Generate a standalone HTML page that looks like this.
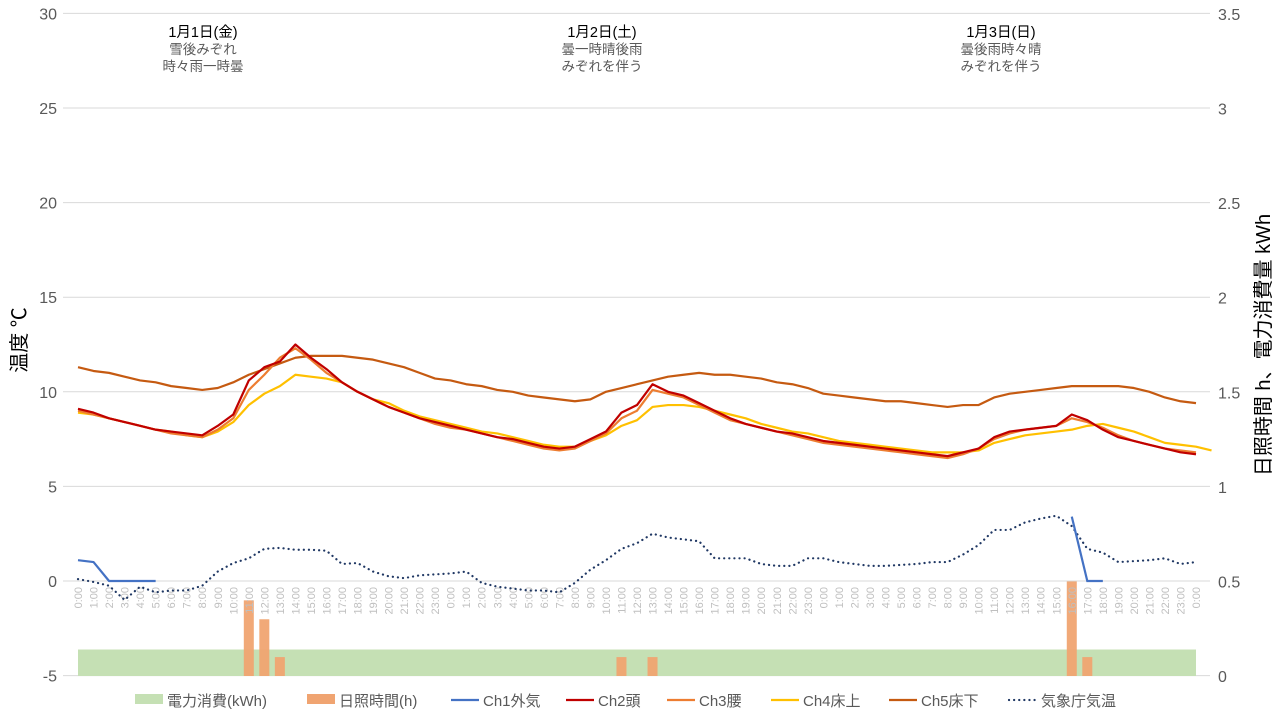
<!DOCTYPE html>
<html><head><meta charset="utf-8"><style>
body{margin:0;background:#fff;font-family:"Liberation Sans","Noto Sans CJK JP",sans-serif}
svg text{font-family:"Liberation Sans","Noto Sans CJK JP",sans-serif}
</style></head><body>
<svg id="chart" width="1280" height="720" xmlns="http://www.w3.org/2000/svg"></svg>
<script>
const hours=[];for(let d=0;d<3;d++)for(let h=0;h<24;h++)hours.push(h+":00");hours.push("0:00");
const leftTicks=[-5,0,5,10,15,20,25,30];
const rightTicks=["0","0.5","1","1.5","2","2.5","3","3.5"];
const ch1=[1.1,1.0,0,0,0,0];
const ch1Late=[[64,3.4],[65,0],[66,0]];
const ch2=[9.1,8.9,8.6,8.4,8.2,8.0,7.9,7.8,7.7,8.2,8.8,10.6,11.3,11.6,12.5,11.8,11.2,10.5,10.0,9.6,9.2,8.9,8.6,8.4,8.2,8.0,7.8,7.6,7.5,7.3,7.1,7.0,7.1,7.5,7.9,8.9,9.3,10.4,10.0,9.8,9.4,9.0,8.6,8.3,8.1,7.9,7.8,7.6,7.4,7.3,7.2,7.1,7.0,6.9,6.8,6.7,6.6,6.8,7.0,7.6,7.9,8.0,8.1,8.2,8.8,8.5,8.0,7.6,7.4,7.2,7.0,6.8,6.7];
const ch3=[9.0,8.8,8.6,8.4,8.2,8.0,7.8,7.7,7.6,8.0,8.6,10.1,10.9,11.8,12.3,11.7,11.0,10.5,10.0,9.6,9.2,8.9,8.6,8.3,8.1,8.0,7.8,7.6,7.4,7.2,7.0,6.9,7.0,7.4,7.8,8.6,9.0,10.1,9.9,9.7,9.3,8.9,8.5,8.3,8.1,7.9,7.7,7.5,7.3,7.2,7.1,7.0,6.9,6.8,6.7,6.6,6.5,6.7,7.0,7.5,7.8,8.0,8.1,8.2,8.6,8.4,8.1,7.7,7.4,7.2,7.0,6.9,6.8];
const ch4=[8.9,8.8,8.6,8.4,8.2,8.0,7.9,7.7,7.6,7.9,8.4,9.3,9.9,10.3,10.9,10.8,10.7,10.5,10.0,9.6,9.4,9.0,8.7,8.5,8.3,8.1,7.9,7.8,7.6,7.4,7.2,7.1,7.1,7.4,7.7,8.2,8.5,9.2,9.3,9.3,9.2,9.0,8.8,8.6,8.3,8.1,7.9,7.8,7.6,7.4,7.3,7.2,7.1,7.0,6.9,6.8,6.8,6.8,6.9,7.3,7.5,7.7,7.8,7.9,8.0,8.2,8.3,8.1,7.9,7.6,7.3,7.2,7.1,6.9];
const ch5=[11.3,11.1,11.0,10.8,10.6,10.5,10.3,10.2,10.1,10.2,10.5,10.9,11.2,11.5,11.8,11.9,11.9,11.9,11.8,11.7,11.5,11.3,11.0,10.7,10.6,10.4,10.3,10.1,10.0,9.8,9.7,9.6,9.5,9.6,10.0,10.2,10.4,10.6,10.8,10.9,11.0,10.9,10.9,10.8,10.7,10.5,10.4,10.2,9.9,9.8,9.7,9.6,9.5,9.5,9.4,9.3,9.2,9.3,9.3,9.7,9.9,10.0,10.1,10.2,10.3,10.3,10.3,10.3,10.2,10.0,9.7,9.5,9.4];
const jma=[0.1,-0.05,-0.25,-1.0,-0.3,-0.6,-0.5,-0.5,-0.25,0.5,0.95,1.2,1.7,1.75,1.65,1.65,1.6,0.9,0.95,0.5,0.25,0.15,0.3,0.35,0.4,0.5,-0.1,-0.3,-0.4,-0.5,-0.5,-0.6,-0.1,0.6,1.1,1.7,2.0,2.5,2.3,2.2,2.1,1.2,1.2,1.2,0.9,0.8,0.8,1.2,1.2,1.0,0.9,0.8,0.8,0.85,0.9,1.0,1.0,1.4,1.9,2.7,2.7,3.1,3.3,3.45,2.9,1.7,1.5,1.0,1.05,1.1,1.2,0.9,1.0];
const sunIdx=[11,12,13,35,37,64,65];
const sunVal=[0.4,0.3,0.1,0.1,0.1,0.5,0.1];
const power=0.14;
const dayLabels=[["1月1日(金)","雪後みぞれ","時々雨一時曇"],["1月2日(土)","曇一時晴後雨","みぞれを伴う"],["1月3日(日)","曇後雨時々晴","みぞれを伴う"]];

const svg=document.getElementById('chart');const NS="http://www.w3.org/2000/svg";
function mk(t,a,p){const e=document.createElementNS(NS,t);for(const k in a)e.setAttribute(k,a[k]);(p||svg).appendChild(e);return e;}
const X=i=>78+i*(1196-78)/72;
const Y=v=>581-v*18.92;
const YR=v=>676-v*189.14;
leftTicks.forEach(v=>{
 const g=mk('line',{x1:63,x2:1210,y1:Y(v),y2:Y(v),stroke:'#d9d9d9','stroke-width':1});
 
 const t=mk('text',{x:57,y:Y(v)+6,'text-anchor':'end','font-size':16,fill:'#595959'});t.textContent=v;
 
});
rightTicks.forEach((v,i)=>{
 const t=mk('text',{x:1218,y:YR(i*0.5)+6,'font-size':16,fill:'#595959'});t.textContent=v;
 
});
const pa=mk('rect',{x:X(0),y:YR(power),width:X(72)-X(0),height:YR(0)-YR(power),fill:'#c5e0b4'});

sunIdx.forEach((idx,k)=>{
 const b=mk('rect',{x:X(idx)-5,y:YR(sunVal[k]),width:10,height:YR(0)-YR(sunVal[k]),fill:'#f0a471',opacity:0.95});
 
});
hours.forEach((h,i)=>{
 const t=mk('text',{transform:`translate(${X(i)+4},587) rotate(-90)`,'text-anchor':'end','font-size':11,fill:'#bfbfbf'});t.textContent=h;
 
});
function line(arr,color,w,name,dash){
 const pts=arr.map((v,i)=>X(i)+','+Y(v)).join(' ');
 const a={points:pts,fill:'none',stroke:color,'stroke-width':w,'stroke-linejoin':'round'};
 if(dash){a['stroke-dasharray']=dash;a['stroke-linecap']='round';}
 const p=mk('polyline',a);
}
line(ch5,'#c55a11',2.2,'ch5-line');
line(ch4,'#ffc000',2.2,'ch4-line');
line(ch3,'#ed7d31',2.2,'ch3-line');
line(ch2,'#c00000',2.2,'ch2-line');
line(jma,'#203864',2.2,'jma-line','0.1 5');
line(ch1,'#4472c4',2.2,'ch1-line');
const c1=mk('polyline',{points:ch1Late.map(p=>X(p[0])+','+Y(p[1])).join(' '),fill:'none',stroke:'#4472c4','stroke-width':2.2});

[203,602,1001].forEach((x,d)=>{
 dayLabels[d].forEach((s,j)=>{
  const t=mk('text',{x:x,y:37+j*17,'text-anchor':'middle','font-size':j?13.5:14.5,fill:j?'#595959':'#000'});t.textContent=s;
  
 });
});
let t=mk('text',{transform:'translate(26,340) rotate(-90)','text-anchor':'middle','font-size':20,fill:'#000'});t.textContent='温度 ℃';

t=mk('text',{transform:'translate(1270,345) rotate(-90)','text-anchor':'middle','font-size':20,fill:'#000'});t.textContent='日照時間 h、電力消費量 kWh';

const leg=[['rect','#c5e0b4','電力消費(kWh)',135],['rect','#f0a471','日照時間(h)',307],['line','#4472c4','Ch1外気',451],['line','#c00000','Ch2頭',566],['line','#ed7d31','Ch3腰',667],['line','#ffc000','Ch4床上',771],['line','#c55a11','Ch5床下',889],['dot','#203864','気象庁気温',1009]];
leg.forEach(l=>{
 const g=mk('g',{});
 if(l[0]=='rect')mk('rect',{x:l[3],y:694,width:28,height:10,fill:l[1]},g);
 else if(l[0]=='line')mk('line',{x1:l[3],x2:l[3]+28,y1:700,y2:700,stroke:l[1],'stroke-width':2.2},g);
 else mk('line',{x1:l[3],x2:l[3]+28,y1:700,y2:700,stroke:l[1],'stroke-width':2.2,'stroke-dasharray':'0.1 5','stroke-linecap':'round'},g);
 const tx=mk('text',{x:l[3]+32,y:706,'font-size':15,fill:'#595959'},g);tx.textContent=l[2];
});
</script>
</body></html>
